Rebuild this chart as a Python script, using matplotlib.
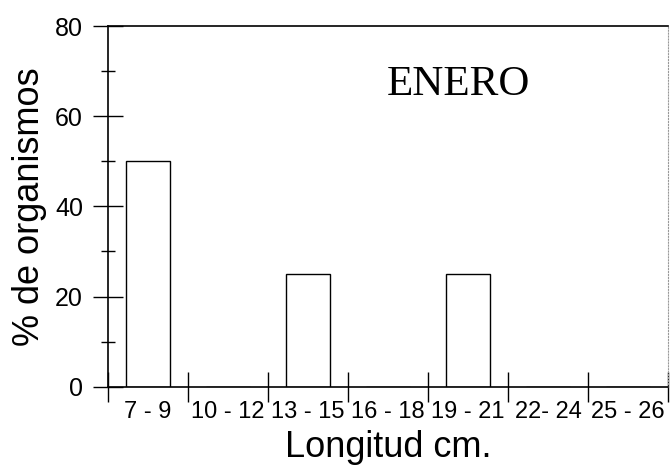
import numpy as np
from matplotlib import pyplot as plt

# datos
clases = ["7 - 9", "10 - 12", "13 - 15", "16 - 18", "19 - 21", "22- 24", "25 - 26"]
porcentaje = [50, 0, 25, 0, 25, 0, 0]
mes = "ENERO"

plt.rcParams['font.family'] = ['Liberation Sans', 'DejaVu Sans']

x = np.arange(len(clases))

fig = plt.figure(figsize=(6.72, 4.67), dpi=100)
ax = fig.add_axes([0.1607, 0.172, 0.8333, 0.7723])

ax.bar(x, porcentaje, width=0.55, color='white', edgecolor='black', linewidth=1.0)

ax.set_xlim(-0.5, len(clases) - 0.5)
ax.set_ylim(0, 80)

# ticks del eje x en los limites de clase, etiquetas al centro
ax.set_xticks(np.arange(len(clases) + 1) - 0.5)
ax.set_xticklabels([])
ax.set_xticks(x, minor=True)
ax.set_xticklabels(clases, minor=True, fontsize=17)
ax.tick_params(axis='x', which='major', direction='inout', length=22, width=1)
ax.tick_params(axis='x', which='minor', length=0, pad=10)

ax.set_yticks([0, 20, 40, 60, 80])
ax.set_yticks([10, 30, 50, 70], minor=True)
ax.tick_params(axis='y', which='major', direction='inout', length=22, width=1, labelsize=18, pad=7)
ax.tick_params(axis='y', which='minor', direction='inout', length=10, width=1)

for s in ['left', 'bottom', 'top']:
    ax.spines[s].set_linewidth(1.2)
ax.spines['right'].set_color('#999999')
ax.spines['right'].set_linestyle(':')

ax.set_xlabel("Longitud cm.", fontsize=26, va='baseline')
ax.set_ylabel("% de organismos", fontsize=26, va='baseline')
ax.xaxis.set_label_coords(0.5, -0.195)
ax.yaxis.set_label_coords(-0.123, 0.5)

ax.text(0.625, 0.81, mes, transform=ax.transAxes, ha='center', va='baseline',
        fontsize=31, family='Liberation Serif')

fig.savefig("out.png", dpi=100)
